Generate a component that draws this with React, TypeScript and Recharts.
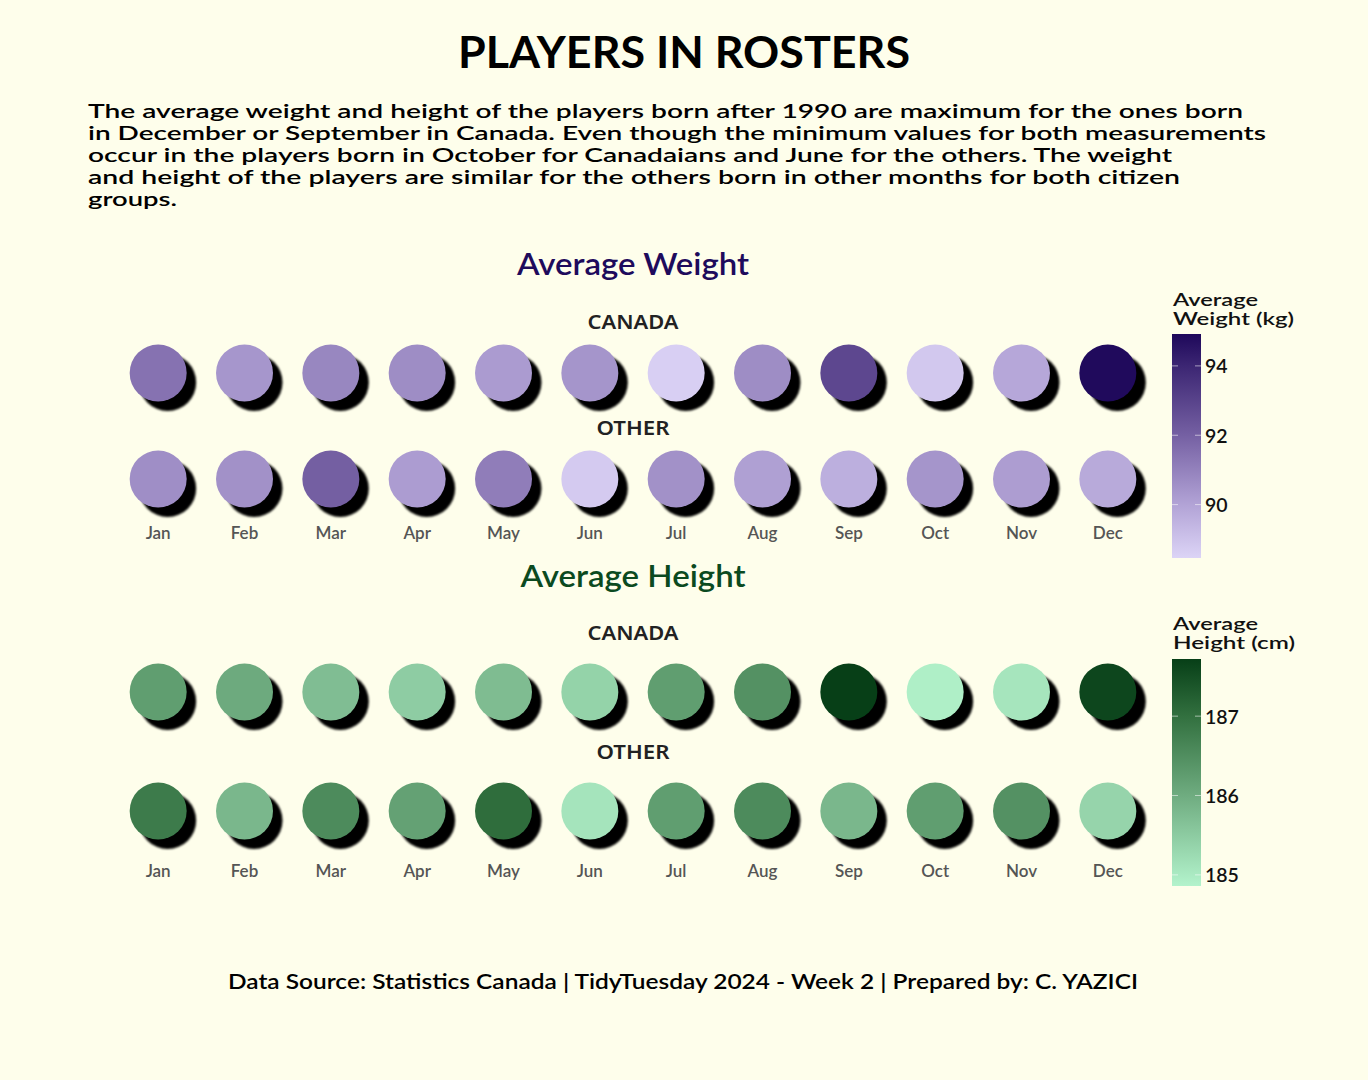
import React from "react";
import { ScatterChart, Scatter, XAxis, YAxis } from "recharts";

const months = ["Jan", "Feb", "Mar", "Apr", "May", "Jun", "Jul", "Aug", "Sep", "Oct", "Nov", "Dec"];
const groups = ["CANADA", "OTHER"];

// average weight (kg) by birth month
const weightCanada = [91.45, 90.4, 90.85, 90.65, 90.23, 90.42, 88.62, 90.67, 92.85, 88.84, 89.86, 94.85];
const weightOther = [90.62, 90.53, 92.05, 90.2, 91.13, 88.76, 90.53, 90.1, 89.62, 90.42, 90.18, 89.79];

// average height (cm) by birth month
const heightCanada = [186.24, 186.03, 185.72, 185.48, 185.74, 185.38, 186.24, 186.45, 187.72, 184.93, 185.08, 187.62];
const heightOther = [186.82, 185.82, 186.55, 186.18, 187.05, 185.1, 186.24, 186.55, 185.82, 186.24, 186.45, 185.35];

const weightTicks = [90, 92, 94];
const heightTicks = [185, 186, 187];

// colour scales: [value, colour]
const weightScale: [number, string][] = [
  [88.46, "#DCD4F6"],
  [90, "#B2A3D6"],
  [92, "#7560A3"],
  [94, "#3C2673"],
  [94.92, "#1E085A"],
];
const heightScale: [number, string][] = [
  [184.86, "#B3F3CC"],
  [186, "#6FAC80"],
  [187, "#32703F"],
  [187.72, "#073F17"],
];

const BG = "#FEFEEB";
const FONT = "Lato, 'Noto Sans', sans-serif";
const groupLabelWidth: Record<string, number> = { CANADA: 91, OTHER: 73 };

const hex = (c: string) => [1, 3, 5].map((i) => parseInt(c.slice(i, i + 2), 16));

function colorFor(v: number, scale: [number, string][]) {
  if (v <= scale[0][0]) return scale[0][1];
  for (let i = 1; i < scale.length; i++) {
    const [v1, c1] = scale[i];
    const [v0, c0] = scale[i - 1];
    if (v <= v1) {
      const t = (v - v0) / (v1 - v0);
      const a = hex(c0);
      const b = hex(c1);
      const m = a.map((x, k) => Math.round(x + (b[k] - x) * t));
      return `rgb(${m[0]},${m[1]},${m[2]})`;
    }
  }
  return scale[scale.length - 1][1];
}

const CHART_W = 1160;
const M_LEFT = 114;
const Y_W = 1;
const M_RIGHT = 9;
const PLOT_CX = M_LEFT + Y_W + (CHART_W - M_LEFT - Y_W - M_RIGHT) / 2;

function Panel({
  top,
  marginTop,
  rowGap,
  labelOffset,
  monthOffset,
  canada,
  other,
  scale,
}: {
  top: number;
  marginTop: number;
  rowGap: number;
  labelOffset: number;
  monthOffset: number;
  canada: number[];
  other: number[];
  scale: [number, string][];
}) {
  const canadaData = months.map((m, i) => ({ month: m, group: groups[0], value: canada[i] }));
  const otherData = months.map((m, i) => ({ month: m, group: groups[1], value: other[i] }));
  const xh = 70;
  const height = marginTop + rowGap + xh;

  const dot = (p: any) => {
    const { cx, cy, payload } = p;
    return (
      <g>
        <circle cx={cx + 9.5} cy={cy + 9.5} r={28.5} fill="#000" filter="url(#shadowBlur)" />
        <circle cx={cx} cy={cy} r={28.5} fill={colorFor(payload.value, scale)} />
      </g>
    );
  };

  const MonthTick = (p: any) => (
    <text
      x={p.x}
      y={p.y + monthOffset}
      textAnchor="middle"
      dominantBaseline="central"
      fontFamily={FONT}
      fontSize={17}
      fontWeight={600}
      fill="#555"
    >
      {p.payload.value}
    </text>
  );

  const GroupTick = (p: any) => (
    <text
      x={PLOT_CX}
      y={p.y - labelOffset}
      textAnchor="middle"
      dominantBaseline="central"
      fontFamily="'Noto Sans', sans-serif"
      fontSize={20}
      fontWeight={600}
      fill="#222"
      textLength={groupLabelWidth[p.payload.value]}
      lengthAdjust="spacingAndGlyphs"
    >
      {p.payload.value}
    </text>
  );

  return (
    <div style={{ position: "absolute", left: 0, top }}>
      <ScatterChart
        width={CHART_W}
        height={height}
        margin={{ top: marginTop, right: M_RIGHT, bottom: 0, left: M_LEFT }}
      >
        <XAxis
          type="category"
          dataKey="month"
          allowDuplicatedCategory={false}
          axisLine={false}
          tickLine={false}
          tickSize={0}
          tickMargin={0}
          interval={0}
          height={xh}
          tick={MonthTick}
        />
        <YAxis
          type="category"
          dataKey="group"
          allowDuplicatedCategory={false}
          scale="point"
          reversed
          width={Y_W}
          axisLine={false}
          tickLine={false}
          tickSize={0}
          tickMargin={0}
          interval={0}
          tick={GroupTick}
        />
        <Scatter data={canadaData} shape={dot} isAnimationActive={false} />
        <Scatter data={otherData} shape={dot} isAnimationActive={false} />
      </ScatterChart>
    </div>
  );
}

function ColorLegend({
  id,
  yTop,
  yBottom,
  scale,
  ticks,
  line1,
  line2,
  line2Len,
  titleBase,
}: {
  id: string;
  yTop: number;
  yBottom: number;
  scale: [number, string][];
  ticks: number[];
  line1: string;
  line2: string;
  line2Len: number;
  titleBase: number;
}) {
  const vMin = scale[0][0];
  const vMax = scale[scale.length - 1][0];
  const yOf = (v: number) => yBottom - ((v - vMin) / (vMax - vMin)) * (yBottom - yTop);
  const x0 = 1172;
  const w = 29;
  return (
    <g>
      <defs>
        <linearGradient id={id} x1="0" y1="1" x2="0" y2="0">
          {scale.map(([v, c]) => (
            <stop key={v} offset={(v - vMin) / (vMax - vMin)} stopColor={c} />
          ))}
        </linearGradient>
      </defs>
      <text x={x0 + 1} y={titleBase} fontFamily={FONT} fontSize={17.5} fontWeight={600} fill="#111" textLength={85} lengthAdjust="spacingAndGlyphs">
        {line1}
      </text>
      <text x={x0 + 1} y={titleBase + 19} fontFamily={FONT} fontSize={17.5} fontWeight={600} fill="#111" textLength={line2Len} lengthAdjust="spacingAndGlyphs">
        {line2}
      </text>
      <rect x={x0} y={yTop} width={w} height={yBottom - yTop} fill={`url(#${id})`} />
      {ticks.map((t) => (
        <g key={t}>
          <line x1={x0} x2={x0 + 6} y1={yOf(t)} y2={yOf(t)} stroke="rgba(255,255,255,0.55)" />
          <line x1={x0 + w - 6} x2={x0 + w} y1={yOf(t)} y2={yOf(t)} stroke="rgba(255,255,255,0.55)" />
          <text x={x0 + w + 4} y={yOf(t)} dominantBaseline="central" fontFamily={FONT} fontSize={19.5} fontWeight={600} fill="#111">
            {t}
          </text>
        </g>
      ))}
    </g>
  );
}

const subtitle = [
  { t: "The average weight and height of the players born after 1990 are maximum for the ones born", w: 1155 },
  { t: "in December or September in Canada. Even though the minimum values for both measurements", w: 1178 },
  { t: "occur in the players born in October for Canadaians and June for the others. The weight", w: 1084 },
  { t: "and height of the players are similar for the others born in other months for both citizen", w: 1092 },
  { t: "groups.", w: 89 },
];

export default function App() {
  return (
    <div
      style={{
        position: "absolute",
        left: 0,
        top: 0,
        width: 1368,
        height: 1080,
        background: BG,
        overflow: "hidden",
      }}
    >
      <svg width={1368} height={1080} style={{ position: "absolute", left: 0, top: 0 }}>
        <defs>
          <filter id="shadowBlur" x="-30%" y="-30%" width="160%" height="160%">
            <feGaussianBlur stdDeviation="1.3" />
          </filter>
        </defs>
        <text x={684} y={68} textAnchor="middle" fontFamily={FONT} fontSize={44} fontWeight={700} fill="#000" textLength={452} lengthAdjust="spacingAndGlyphs">
          PLAYERS IN ROSTERS
        </text>
        {subtitle.map((s, i) => (
          <text key={i} x={88} y={118 + i * 22} fontFamily={FONT} fontSize={20} fontWeight={600} fill="#000" textLength={s.w} lengthAdjust="spacingAndGlyphs">
            {s.t}
          </text>
        ))}
        <text x={PLOT_CX} y={275} textAnchor="middle" fontFamily={FONT} fontSize={30} fontWeight={600} fill="#1E0B5C" textLength={232} lengthAdjust="spacingAndGlyphs">
          Average Weight
        </text>
        <text x={PLOT_CX} y={587} textAnchor="middle" fontFamily={FONT} fontSize={30} fontWeight={600} fill="#0B4A1F" textLength={225} lengthAdjust="spacingAndGlyphs">
          Average Height
        </text>
        <ColorLegend id="wGrad" yTop={334} yBottom={558} scale={weightScale} ticks={weightTicks} line1="Average" line2="Weight (kg)" line2Len={121} titleBase={306} />
        <ColorLegend id="hGrad" yTop={659} yBottom={886} scale={heightScale} ticks={heightTicks} line1="Average" line2="Height (cm)" line2Len={122} titleBase={630} />
        <text x={228} y={989} fontFamily={FONT} fontSize={21} fontWeight={600} fill="#000" textLength={910} lengthAdjust="spacingAndGlyphs">
          Data Source: Statistics Canada | TidyTuesday 2024 - Week 2 | Prepared by: C. YAZICI
        </text>
      </svg>
      <Panel top={280} marginTop={93} rowGap={106} labelOffset={51.5} monthOffset={53} canada={weightCanada} other={weightOther} scale={weightScale} />
      <Panel top={600} marginTop={92} rowGap={119} labelOffset={59.5} monthOffset={59} canada={heightCanada} other={heightOther} scale={heightScale} />
    </div>
  );
}
